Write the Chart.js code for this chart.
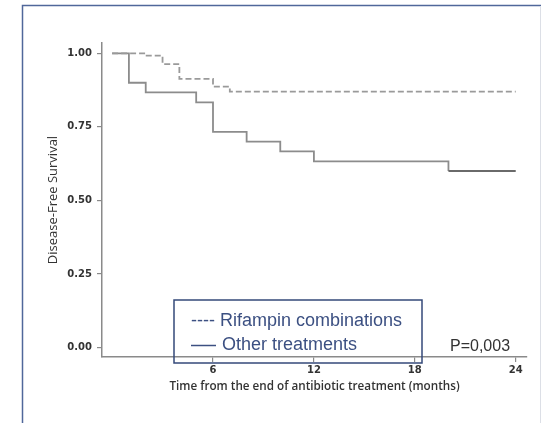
<!DOCTYPE html>
<html>
<head>
<meta charset="utf-8">
<script src="https://cdn.jsdelivr.net/npm/chart.js@4"></script>
<style>
  html, body { margin: 0; padding: 0; background: #fff; }
  #wrap { width: 544px; height: 423px; position: relative; }
</style>
</head>
<body>
<div id="wrap"><canvas id="kmchart" width="544" height="423"></canvas></div>
<script>
// Kaplan-Meier steps: time of each drop (months) and survival after it
const rifTime = [0, 2, 3, 4, 6, 7, 24];
const rifSurv = [1.00, 0.992, 0.963, 0.913, 0.887, 0.87, 0.87];
const otherTime = [0, 1, 2, 5, 6, 8, 10, 12, 20, 24];
const otherSurv = [1.00, 0.90, 0.867, 0.833, 0.733, 0.70, 0.667, 0.633, 0.60, 0.60];

const seriesLabels = ["Rifampin combinations", "Other treatments"];
const xTicks = [6, 12, 18, 24];
const yTicks = [0, 0.25, 0.5, 0.75, 1];
const pValue = "P=0,003";

function toPoints(t, s) {
    return t.map(function (v, i) { return { x: v, y: s[i] }; });
}

// frame, inset legend and p-value
const extras = {
    id: "extras",
    afterDraw: function (chart) {
        const ctx = chart.ctx;
        ctx.save();
        ctx.lineWidth = 1.5;
        ctx.strokeStyle = "#50679a";
        ctx.beginPath();
        ctx.moveTo(22.5, 423);
        ctx.lineTo(22.5, 5.5);
        ctx.lineTo(541, 5.5);
        ctx.stroke();
        ctx.strokeStyle = "#dcdfe6";
        ctx.lineWidth = 1;
        ctx.beginPath();
        ctx.moveTo(540.5, 6);
        ctx.lineTo(540.5, 423);
        ctx.stroke();

        // legend box
        ctx.strokeStyle = "#34497a";
        ctx.lineWidth = 1.5;
        ctx.strokeRect(174, 300, 248, 63);
        ctx.fillStyle = "#3c5082";
        ctx.font = '18px "Liberation Sans"';
        ctx.textBaseline = "alphabetic";
        ctx.fillText("---- " + chart.data.datasets[0].label, 191, 325.5);
        ctx.strokeStyle = "#3c5082";
        ctx.lineWidth = 1.5;
        ctx.beginPath();
        ctx.moveTo(191, 345.5);
        ctx.lineTo(216, 345.5);
        ctx.stroke();
        ctx.fillText(chart.data.datasets[1].label, 222, 350);

        ctx.fillStyle = "#333";
        ctx.font = '16px "Liberation Sans"';
        ctx.fillText(pValue, 450, 351);
        ctx.restore();
    }
};

new Chart(document.getElementById("kmchart"), {
    "type": "line",
    "data": {
        "datasets": [{
            "label": seriesLabels[0],
            "data": toPoints(rifTime, rifSurv),
            "fill": false,
            "stepped": true,
            "borderColor": "#9a9a9a",
            "borderWidth": 1.8,
            "borderDash": [6, 3],
            "pointRadius": 0
        }, {
            "label": seriesLabels[1],
            "data": toPoints(otherTime, otherSurv),
            "fill": false,
            "stepped": true,
            "borderColor": "#8c8c8c",
            "borderWidth": 1.8,
            "pointRadius": 0,
            "segment": {
                borderColor: function (c) { return c.p0.parsed.x >= 20 ? "#6a6a6a" : undefined; }
            }
        }]
    },
    "options": {
        responsive: false,
        animation: false,
        layout: { padding: { left: 22, top: 43, right: 17, bottom: 0 } },
        plugins: { legend: { display: false }, tooltip: { enabled: false } },
        scales: {
            x: {
                type: "linear",
                min: -0.6,
                max: 24.67,
                afterFit: function (s) { s.height = 66; },
                afterBuildTicks: function (s) { s.ticks = xTicks.map(function (v) { return { value: v }; }); },
                grid: { drawOnChartArea: false, drawTicks: true, tickLength: 5, color: "#8a8a8a", lineWidth: 1.2 },
                border: { display: true, color: "#8a8a8a", width: 1.5 },
                ticks: { padding: 2, color: "#333", font: { family: "DejaVu Sans", size: 10, weight: "bold" }, maxRotation: 0 },
                title: {
                    display: true,
                    text: "Time from the end of antibiotic treatment (months)",
                    color: "#333",
                    font: { family: "Open Sans", size: 11.7, weight: 600, lineHeight: 1.2 },
                    padding: { top: 0, bottom: 29 }
                }
            },
            y: {
                min: -0.032,
                max: 1.035,
                afterFit: function (s) { s.width = 80; },
                afterBuildTicks: function (s) { s.ticks = yTicks.map(function (v) { return { value: v }; }); },
                grid: { drawOnChartArea: false, drawTicks: true, tickLength: 5, color: "#8a8a8a", lineWidth: 1.2 },
                border: { display: true, color: "#8a8a8a", width: 1.5 },
                ticks: {
                    padding: 5,
                    color: "#333",
                    font: { family: "DejaVu Sans", size: 10, weight: "bold" },
                    callback: function (v) { return v.toFixed(2); }
                },
                title: {
                    display: true,
                    text: "Disease-Free Survival",
                    color: "#333",
                    font: { family: "Open Sans", size: 13, lineHeight: 1.2 },
                    padding: { top: 23, bottom: 0 }
                }
            }
        }
    },
    plugins: [extras]
});
</script>
</body>
</html>
